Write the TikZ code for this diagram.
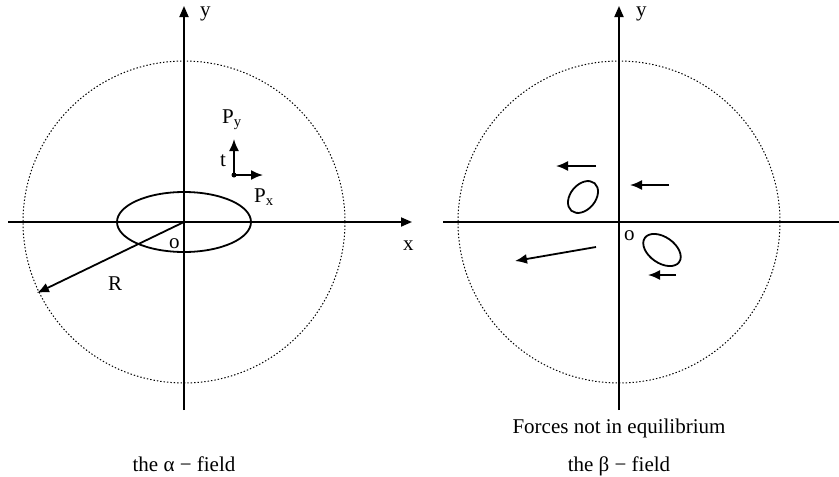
\documentclass[tikz,border=0pt]{standalone}
\usepackage{fontspec}
\setmainfont{Liberation Serif}
\usetikzlibrary{arrows.meta}

\begin{document}
\begin{tikzpicture}[
    x=1pt, y=-1pt,
    every node/.style={font=\fontsize{21}{25}\selectfont, inner sep=0pt},
    lbl/.style={anchor=base west},
    axis/.style={line width=1.8pt, -{Triangle[length=11pt, width=9pt]}},
    axisline/.style={line width=1.8pt},
    force/.style={line width=1.8pt, -{Latex[length=12pt, width=10pt]}},
    field/.style={line width=1pt, dash pattern=on 1.4pt off 2pt},
    grain/.style={line width=1.8pt}
  ]
    \useasboundingbox (0,0) rectangle (839,477);

    % alpha field
    \coordinate (aO) at (184,222);
    \coordinate (aTop) at (184,6);
    \coordinate (aBot) at (184,410);
    \coordinate (aLeft) at (8,222);
    \coordinate (aRight) at (412,222);
    \coordinate (aR) at (37,293);
    \coordinate (aDot) at (234,175);
    \coordinate (aUp) at (234,139);
    \coordinate (aSide) at (263,175);

    \draw[field] (aO) circle (161);
    \draw[grain] (aO) ellipse [x radius=67, y radius=30];
    \draw[axis] (aBot) -- (aTop);
    \draw[axis] (aLeft) -- (aRight);
    \draw[force] (aO) -- (aR);
    \fill (aDot) circle (2.5);
    \draw[force] (aDot) -- (aUp);
    \draw[force] (aDot) -- (aSide);

    \node[lbl] (ay) at (200,16) {y};
    \node[lbl] (ax) at (403,250) {x};
    \node[lbl] (ao) at (169,248) {o};
    \node[lbl] (aRl) at (108,290) {R};
    \node[lbl] (at) at (220,166) {t};
    \node[lbl] (aPy) at (222,123) {P\textsubscript{y}};
    \node[lbl] (aPx) at (254,202) {P\textsubscript{x}};
    \node[anchor=base] (acap) at (184,471) {the α − field};

    % beta field
    \coordinate (bO) at (619,222);
    \coordinate (bTop) at (619,6);
    \coordinate (bBot) at (619,410);
    \coordinate (bLeft) at (443,222);
    \coordinate (bRight) at (842,222);
    \coordinate (bA1) at (596,166);
    \coordinate (bA2) at (556,166);
    \coordinate (bB1) at (669,185);
    \coordinate (bB2) at (630,185);
    \coordinate (bC1) at (596,247);
    \coordinate (bC2) at (515,261);
    \coordinate (bD1) at (676,275);
    \coordinate (bD2) at (648,275);

    \draw[field] (bO) circle (161);
    \draw[axis] (bBot) -- (bTop);
    \draw[axisline] (bLeft) -- (bRight);
    \draw[grain, rotate around={50:(583,197)}] (583,197) ellipse [x radius=18, y radius=12.5];
    \draw[grain, rotate around={-35:(662,250)}] (662,250) ellipse [x radius=21, y radius=13];
    \draw[force] (bA1) -- (bA2);
    \draw[force] (bB1) -- (bB2);
    \draw[force] (bC1) -- (bC2);
    \draw[force] (bD1) -- (bD2);

    \node[lbl] (by) at (636,16) {y};
    \node[lbl] (bo) at (624,240) {o};
    \node[anchor=base] (bnote) at (619,433) {Forces not in equilibrium};
    \node[anchor=base] (bcap) at (619,471) {the β − field};
  \end{tikzpicture}
\end{document}
